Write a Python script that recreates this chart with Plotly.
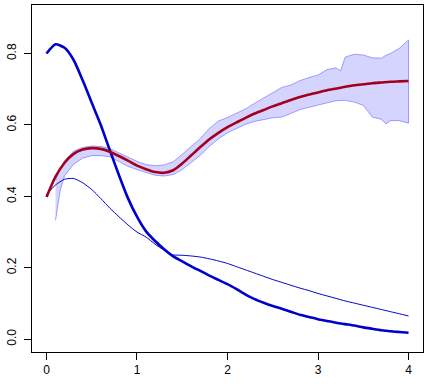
import plotly.graph_objects as go

# common x grid (0 to 4 by 0.1)
x_grid = [round(i * 0.1, 1) for i in range(41)]

# thick blue curve
thick_y = [0.800, 0.826, 0.816, 0.782, 0.725, 0.662, 0.600, 0.529, 0.460, 0.395,
           0.343, 0.302, 0.275, 0.252, 0.232, 0.218, 0.204, 0.191, 0.178, 0.166,
           0.154, 0.140, 0.125, 0.112, 0.102, 0.093, 0.085, 0.077, 0.068, 0.062,
           0.056, 0.051, 0.046, 0.042, 0.038, 0.033, 0.029, 0.025, 0.022, 0.020,
           0.018]

# thin blue curve (own x, kink near 1.35)
thin_x = [0.0, 0.1, 0.2, 0.3, 0.4, 0.5, 0.6, 0.7, 0.8, 0.9, 1.0, 1.1, 1.2, 1.3, 1.35,
          1.4, 1.5, 1.6, 1.7, 1.8, 1.9, 2.0, 2.1, 2.2, 2.3, 2.4, 2.5, 2.6, 2.7, 2.8,
          2.9, 3.0, 3.1, 3.2, 3.3, 3.4, 3.5, 3.6, 3.7, 3.8, 3.9, 4.0]
thin_y = [0.405, 0.432, 0.448, 0.450, 0.438, 0.419, 0.394, 0.367, 0.343, 0.320,
          0.300, 0.286, 0.266, 0.249, 0.241, 0.236, 0.235, 0.233, 0.230, 0.225,
          0.219, 0.212, 0.203, 0.194, 0.185, 0.176, 0.167, 0.159, 0.151, 0.143,
          0.136, 0.128, 0.121, 0.114, 0.107, 0.101, 0.095, 0.089, 0.083, 0.077,
          0.071, 0.065]

# red curve
red_y = [0.398, 0.455, 0.494, 0.519, 0.531, 0.535, 0.533, 0.525, 0.513, 0.500,
         0.486, 0.476, 0.468, 0.466, 0.473, 0.492, 0.515, 0.538, 0.560, 0.578,
         0.594, 0.607, 0.620, 0.632, 0.642, 0.652, 0.661, 0.670, 0.678, 0.685,
         0.691, 0.697, 0.702, 0.707, 0.711, 0.714, 0.717, 0.719, 0.721, 0.722,
         0.723]

# band around the red curve
band_x = [0.1, 0.15, 0.2, 0.3, 0.4, 0.5, 0.6, 0.7, 0.8, 0.9, 1.0, 1.1, 1.2, 1.3, 1.4,
          1.5, 1.6, 1.7, 1.8, 1.9, 2.0, 2.1, 2.2, 2.3, 2.4, 2.5, 2.6, 2.7, 2.8, 2.9,
          3.0, 3.1, 3.2, 3.25, 3.3, 3.4, 3.5, 3.6, 3.7, 3.75, 3.8, 3.9, 4.0]
band_hi = [0.445, 0.478, 0.500, 0.527, 0.537, 0.541, 0.540, 0.534, 0.522, 0.510,
           0.498, 0.489, 0.486, 0.488, 0.497, 0.518, 0.540, 0.562, 0.590, 0.611,
           0.621, 0.632, 0.645, 0.661, 0.675, 0.690, 0.705, 0.712, 0.724, 0.733,
           0.740, 0.755, 0.760, 0.752, 0.790, 0.798, 0.796, 0.788, 0.787, 0.795,
           0.800, 0.815, 0.838]
band_lo = [0.333, 0.415, 0.458, 0.490, 0.507, 0.514, 0.514, 0.511, 0.497, 0.484,
           0.475, 0.466, 0.459, 0.457, 0.461, 0.475, 0.494, 0.515, 0.540, 0.561,
           0.578, 0.590, 0.602, 0.610, 0.616, 0.620, 0.622, 0.632, 0.643, 0.650,
           0.655, 0.662, 0.668, 0.669, 0.669, 0.664, 0.655, 0.622, 0.616, 0.603,
           0.612, 0.612, 0.605]

x_ticks = [0, 1, 2, 3, 4]
y_ticks = [0.0, 0.2, 0.4, 0.6, 0.8]
y_labels = ["0.0", "0.2", "0.4", "0.6", "0.8"]

BLUE = "#0000CD"
RED = "#A3001E"

fig = go.Figure()

# shaded band as one polygon
fig.add_trace(go.Scatter(
    x=band_x + band_x[::-1], y=band_hi + band_lo[::-1],
    fill="toself", fillcolor="rgba(0,0,255,0.17)",
    line=dict(color="rgba(60,60,255,0.45)", width=1),
    mode="lines", hoverinfo="skip"))

fig.add_trace(go.Scatter(x=thin_x, y=thin_y, mode="lines",
                         line=dict(color=BLUE, width=1, shape="spline", smoothing=0.6)))
fig.add_trace(go.Scatter(x=x_grid, y=thick_y, mode="lines",
                         line=dict(color=BLUE, width=2.6, shape="spline", smoothing=0.6)))
fig.add_trace(go.Scatter(x=x_grid, y=red_y, mode="lines",
                         line=dict(color=RED, width=2.6, shape="spline", smoothing=0.6)))

axis_common = dict(showgrid=False, zeroline=False, showline=True, mirror=True,
                   linecolor="black", linewidth=1, ticks="outside", ticklen=7,
                   tickcolor="black", tickwidth=1, automargin=False,
                   tickfont=dict(family="Liberation Sans, Arial", size=12, color="black"))

fig.update_xaxes(range=[-0.16, 4.16], tickvals=x_ticks, ticktext=[str(v) for v in x_ticks],
                 ticklabelstandoff=0, **axis_common)
fig.update_yaxes(range=[-0.036, 0.936], tickvals=y_ticks, ticktext=y_labels,
                 tickangle=-90, ticklabelstandoff=3, **axis_common)

fig.update_layout(width=428, height=384, showlegend=False,
                  plot_bgcolor="white", paper_bgcolor="white",
                  margin=dict(l=32, r=5, t=5, b=32, autoexpand=False))

# drop the page's default body margin so the figure sits at the top-left corner
fig.write_html("out.html", config={"displayModeBar": False},
               post_script="document.body.style.margin='0';")
